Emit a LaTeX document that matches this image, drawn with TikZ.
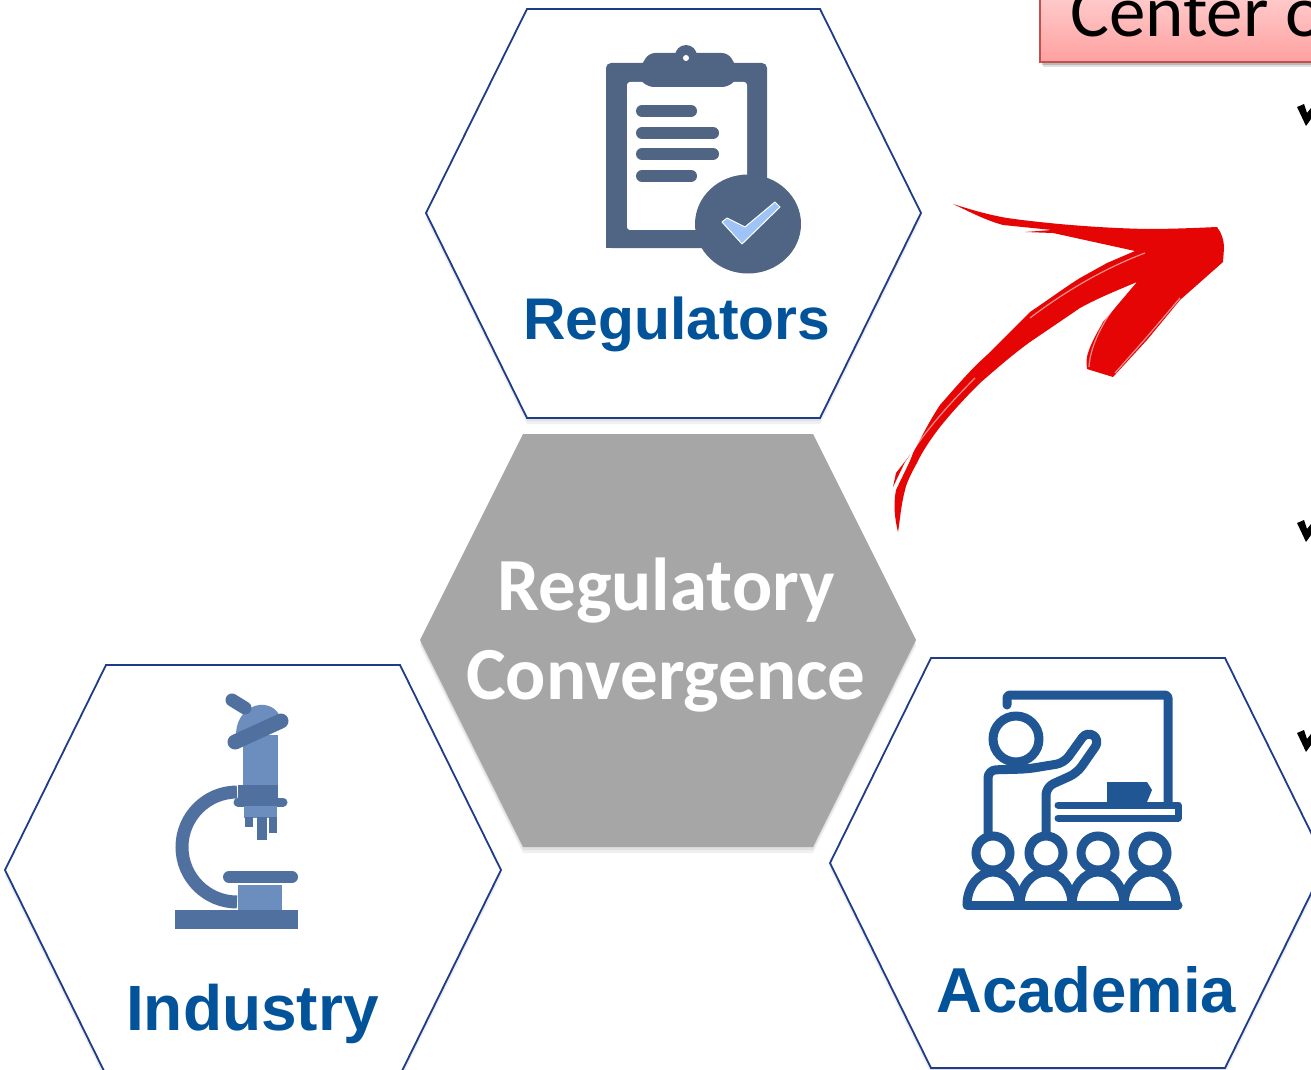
\documentclass[tikz,border=0pt]{standalone}
\usepackage{fontspec}
\setmainfont{Liberation Sans}
\newfontfamily\carlitofont{Carlito}
\usetikzlibrary{calc}
\definecolor{hexline}{HTML}{1F3C88}
\definecolor{labelblue}{HTML}{02539A}
\definecolor{slateicon}{HTML}{506484}
\definecolor{scopedark}{HTML}{50709F}
\definecolor{scopelight}{HTML}{6C8EBF}
\definecolor{teachblue}{HTML}{215695}
\definecolor{arrowred}{HTML}{E50505}
\definecolor{checkblue}{HTML}{9DC3F7}
\definecolor{boxtop}{HTML}{FFCCCC}
\definecolor{boxbottom}{HTML}{FFA0A0}
\definecolor{boxline}{HTML}{C0504D}
\tikzset{
  hexcell/.style={draw=hexline,line width=1.8pt,fill=white,line join=miter},
  softshadow/.style={fill=black,opacity=.06},
  iconlabel/.style={anchor=base west,inner sep=0pt,text=labelblue,font=\fontsize{63.5}{70}\selectfont\bfseries},
  centerlabel/.style={anchor=base,inner sep=0pt,text=white,font=\carlitofont\fontsize{75}{80}\selectfont\bfseries},
  slateline/.style={draw=slateicon,line width=12pt,line cap=round},
  scopeline/.style={draw=scopedark,line cap=round},
  teachline/.style={draw=teachblue,line width=9pt,line cap=round,line join=round,rounded corners=3pt},
  streak/.style={draw=white,opacity=.55,line width=1.2pt},
  tick/.style={fill=black}
}
\begin{document}
\begin{tikzpicture}[x=1pt,y=-1pt]
\useasboundingbox (0,0) rectangle (1311,1070);
\clip (0,0) rectangle (1311,1070);
\fill[white] (0,0) rectangle (1311,1070);

% soft shadows
\foreach \d in {3,6}{
  \fill[softshadow] (527,9+\d) -- (820,9+\d) -- (921,213+\d) -- (820,418+\d) -- (527,418+\d) -- (426,213+\d) -- cycle;
  \fill[softshadow] (106,665+\d) -- (400,665+\d) -- (501,870+\d) -- (400,1075+\d) -- (106,1075+\d) -- (5,870+\d) -- cycle;
  \fill[softshadow] (931,658+\d) -- (1225,658+\d) -- (1326,863+\d) -- (1225,1068+\d) -- (931,1068+\d) -- (830,863+\d) -- cycle;
  \fill[softshadow] (523,434+\d) -- (813,434+\d) -- (916,640+\d) -- (813,847+\d) -- (523,847+\d) -- (420,640+\d) -- cycle;
}

% hexagons
\draw[hexcell] (527,9) -- (820,9) -- (921,213) -- (820,418) -- (527,418) -- (426,213) -- cycle;
\draw[hexcell] (106,665) -- (400,665) -- (501,870) -- (400,1075) -- (106,1075) -- (5,870) -- cycle;
\draw[hexcell] (931,658) -- (1225,658) -- (1326,863) -- (1225,1068) -- (931,1068) -- (830,863) -- cycle;
\fill[fill=black!35] (523,434) -- (813,434) -- (916,640) -- (813,847) -- (523,847) -- (420,640) -- cycle;

% clipboard icon
\fill[slateicon,rounded corners=5pt] (606,63) rectangle (767,248);
\fill[white,rounded corners=3pt] (627,82) rectangle (747,230);
\fill[slateicon,rounded corners=6pt] (642,64) -- (649,53) -- (728,53) -- (735,64) -- (740,76) -- (728,87) -- (648,87) -- (636,76) -- cycle;
\fill[slateicon] (686,56) circle (11);
\fill[white] (686,58) circle (3);
\draw[slateline] (642,111) -- (691,111);
\draw[slateline] (642,133) -- (713,133);
\draw[slateline] (642,154) -- (713,154);
\draw[slateline] (642,176) -- (691,176);
\fill[slateicon] (748,224) ellipse[x radius=53,y radius=49.5];
\fill[slateicon] (606,230) rectangle (720,248);
\fill[fill=checkblue,draw=white,line width=1pt,line join=round] (722,222) -- (727,218) -- (745,227) -- (775,202) -- (780,207) -- (742,244) -- cycle;

% microscope icon
\fill[scopedark] (175,910) rectangle (298,929);
\fill[scopelight] (238,885) rectangle (282,910);
\draw[scopeline,line width=12pt] (229,877) -- (292,877);
\draw[scopeline,line width=13pt,line cap=butt] (237,792) arc[start angle=90,end angle=270,x radius=55,y radius=-55];
\fill[scopelight] (243,735) rectangle (278,787);
\fill[scopedark] (238,785) rectangle (278,807);
\draw[scopeline,line width=9pt] (238,802) -- (283,802);
\fill[scopelight] (244,806) rectangle (277,818);
\fill[scopedark] (245,817) rectangle (253,827);
\fill[scopedark] (257,817) rectangle (267,840);
\fill[scopedark] (269,817) rectangle (277,833);
\fill[scopelight] (236,735) .. controls (236,714) and (252,703) .. (265,705) .. controls (275,707) and (281,713) .. (282,726) -- cycle;
\draw[scopeline,line width=13pt] (232,700) -- (245,708);
\draw[scopeline,line width=15pt] (235,742) -- (281,721);

% classroom icon
\draw[teachline] (1007,705) -- (1007,695) -- (1168,695) -- (1168,803);
\draw[draw=teachblue,line width=7pt,line cap=round,line join=round] (1058,805) -- (1178,805) -- (1178,818) -- (1058,818);
\fill[teachblue] (1107,782) -- (1147,782) -- (1152,790) -- (1147,802) -- (1107,802) -- cycle;
\draw[teachline] (1016,739) circle (23);
\draw[teachline,rounded corners=8pt] (988,833) -- (988,770) -- (1027,769) -- (1064,763) -- (1087,731) -- (1100,740) -- (1077,773) -- (1046,787) -- (1046,833);
\foreach \cx in {993,1046,1098,1150}{
  \draw[draw=teachblue,line width=9pt] (\cx,853) circle (17);
  \draw[draw=teachblue,line width=9pt] (\cx-26,905) arc[start angle=180,end angle=0,x radius=26,y radius=-33];
}
\draw[draw=teachblue,line width=9pt,line cap=round] (967,905) -- (1178,905);

% red brush arrow
\fill[arrowred] (898,532) .. controls (895,520) and (893,505) .. (896,490)
  .. controls (903,475) and (911,460) .. (913,453)
  .. controls (925,430) and (932,417) .. (940,405)
  .. controls (955,388) and (970,370) .. (987,355)
  -- (1020,322)
  -- (1030,312)
  .. controls (1048,300) and (1064,288) .. (1080,278)
  -- (1107,263)
  -- (1135,251) -- (1053,233) -- (1025,232) -- (1052,230) -- (1003,225)
  .. controls (985,220) and (970,212) .. (953,204)
  .. controls (975,211) and (990,215) .. (1007,218)
  .. controls (1050,224) and (1100,228) .. (1147,229)
  .. controls (1170,229) and (1195,228) .. (1217,227)
  .. controls (1221,232) and (1224,240) .. (1224,248)
  -- (1223,262) -- (1180,300) -- (1147,340) -- (1113,377) -- (1087,369)
  .. controls (1086,360) and (1087,356) .. (1088,353)
  .. controls (1092,340) and (1100,328) .. (1103,322)
  -- (1137,282)
  .. controls (1118,290) and (1098,298) .. (1080,308)
  -- (1030,342)
  .. controls (1012,355) and (995,370) .. (980,383)
  .. controls (965,398) and (952,412) .. (940,427)
  .. controls (930,440) and (922,452) .. (917,463)
  .. controls (910,475) and (906,485) .. (905,490)
  .. controls (901,505) and (900,520) .. (898,532) -- cycle;
\fill[arrowred] (893,487) -- (896,473) -- (910,455) -- (905,462) -- cycle;
\draw[streak] (1145,253) .. controls (1100,270) and (1060,295) .. (1030,318);
\draw[streak] (975,378) .. controls (955,398) and (930,425) .. (912,452);
\draw[streak] (1120,300) .. controls (1105,318) and (1090,345) .. (1089,367);
\draw[streak] (1180,298) -- (1146,338) -- (1115,373);

% title box fragment
\fill[black,opacity=.12] (1043,0) rectangle (1311,67);
\fill[black,opacity=.18] (1042,0) rectangle (1311,65);
\shade[top color=boxtop,bottom color=boxbottom,draw=boxline,line width=1.8pt] (1040,-5) rectangle (1325,62);

% tick fragments
\foreach \t in {107,523,733}{
  \fill[tick] (1297,\t) -- (1304,\t-3) -- (1307,\t+6) -- (1311,\t+1) -- (1311,\t+12) -- (1306,\t+19) -- cycle;
}

% labels
\node[iconlabel,font=\fontsize{58.8}{64}\selectfont\bfseries] (regulators) at (523,339) {Regulators};
\node[iconlabel,font=\fontsize{64}{70}\selectfont\bfseries] (industry) at (126,1030) {Industry};
\node[iconlabel] (academia) at (936,1012) {Academia};
\node[centerlabel] (reg) at (666,610) {Regulatory};
\node[centerlabel] (conv) at (666,699) {Convergence};
\node[anchor=base west,inner sep=0pt,text=black,font=\carlitofont\fontsize{73}{80}\selectfont] (center) at (1070,37) {Center of};
\end{tikzpicture}
\end{document}
